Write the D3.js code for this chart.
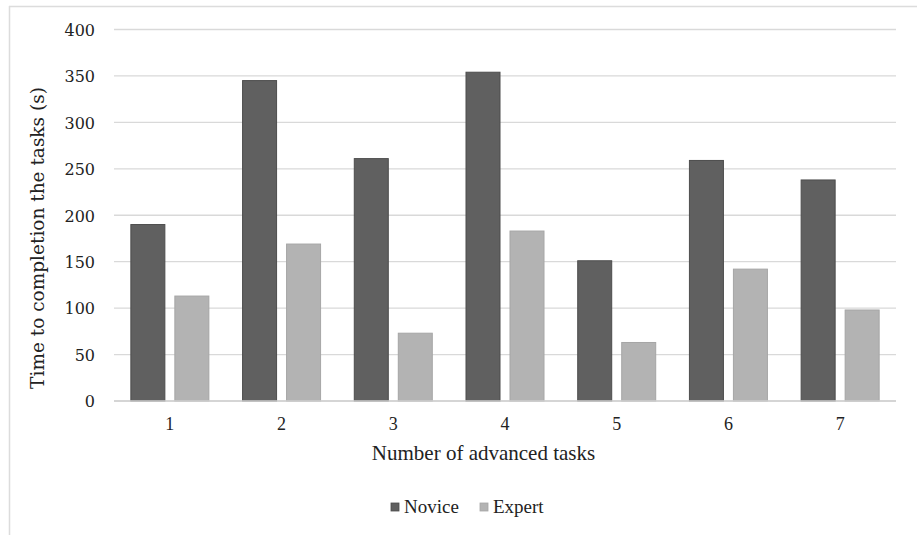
<!DOCTYPE html>
<html><head><meta charset="utf-8">
<script src="https://cdn.jsdelivr.net/npm/d3@7"></script>
<style>body{margin:0;background:#fff}svg{display:block}</style>
</head><body>
<svg id="c" width="917" height="535"></svg>
<script>
const categories = ["1","2","3","4","5","6","7"];
const novice = [190, 345, 261, 354, 151, 259, 238];
const expert = [113, 169, 73, 183, 63, 142, 98];
const yTicks = [0,50,100,150,200,250,300,350,400];
const seriesNames = ["Novice","Expert"];

const svg = d3.select("#c");
const font = "'Liberation Serif','Times New Roman',serif";
const font2 = "'DejaVu Serif',serif";
const m = {l:114, r:896, t:29.5, b:401};

// outer border (top and left)
svg.append("line").attr("x1",9).attr("x2",917).attr("y1",6.5).attr("y2",6.5).attr("stroke","#dcdcdc").attr("stroke-width",1.5);
svg.append("line").attr("x1",9.5).attr("x2",9.5).attr("y1",6).attr("y2",535).attr("stroke","#dcdcdc").attr("stroke-width",1.5);

const x = d3.scaleBand().domain(categories).range([m.l,m.r]).paddingInner(0).paddingOuter(0);
const y = d3.scaleLinear().domain([0,400]).range([m.b,m.t]);

// gridlines
svg.append("g").selectAll("line").data(yTicks).join("line")
  .attr("x1",m.l).attr("x2",m.r).attr("y1",d=>y(d)).attr("y2",d=>y(d))
  .attr("stroke","#d9d9d9").attr("stroke-width",1.3);

// y labels
const yAxis = d3.axisLeft(y).tickValues(yTicks).tickSize(0).tickPadding(0);
const ga = svg.append("g").attr("transform",`translate(95,0)`).call(yAxis);
ga.select(".domain").remove();
ga.selectAll("text").attr("font-family",font2).attr("font-size",16).attr("fill","#222").attr("dy","0.36em");

// bars
const barW = 34;
const sub = d3.scaleOrdinal().domain(seriesNames).range([x.bandwidth()/2 - 39, x.bandwidth()/2 + 5]);
const colors = {Novice:"#606060", Expert:"#b3b3b3"};
const strokes = {Novice:"#4d4d4d", Expert:"#a6a6a6"};
const data = [];
categories.forEach((c,i)=>{ data.push({c, s:"Novice", v:novice[i]}); data.push({c, s:"Expert", v:expert[i]}); });
svg.append("g").selectAll("rect").data(data).join("rect")
  .attr("x",d=>x(d.c)+sub(d.s)).attr("width",barW)
  .attr("y",d=>y(d.v)).attr("height",d=>y(0)-y(d.v))
  .attr("fill",d=>colors[d.s]).attr("stroke",d=>strokes[d.s]).attr("stroke-width",1);

// baseline
svg.append("line").attr("x1",m.l).attr("x2",m.r).attr("y1",y(0)).attr("y2",y(0)).attr("stroke","#d0d0d0").attr("stroke-width",1.3);

// x labels
const xAxis = d3.axisBottom(x).tickSize(0).tickPadding(0);
const gx = svg.append("g").attr("transform",`translate(0,424.5)`).call(xAxis);
gx.select(".domain").remove();
gx.selectAll("text").attr("font-family",font).attr("font-size",18).attr("fill","#222").attr("dy","0.32em");

// axis titles
svg.append("text").attr("x",483.5).attr("y",460).attr("text-anchor","middle")
  .attr("font-family",font).attr("font-size",21).attr("fill","#222").text("Number of advanced tasks");
svg.append("text").attr("transform",`translate(44,238) rotate(-90)`).attr("text-anchor","middle")
  .attr("font-family",font2).attr("font-size",18.5).attr("fill","#222").text("Time to completion the tasks (s)");

// legend
const leg = svg.append("g");
const lx = [391, 480];
seriesNames.forEach((s,i)=>{
  leg.append("rect").attr("x",lx[i]).attr("y",503).attr("width",8).attr("height",8)
    .attr("fill",colors[s]).attr("stroke",strokes[s]).attr("stroke-width",0.8);
  leg.append("text").attr("x",lx[i]+13).attr("y",513).attr("font-family",font).attr("font-size",19).attr("fill","#222").text(s);
});
</script>
</body></html>
